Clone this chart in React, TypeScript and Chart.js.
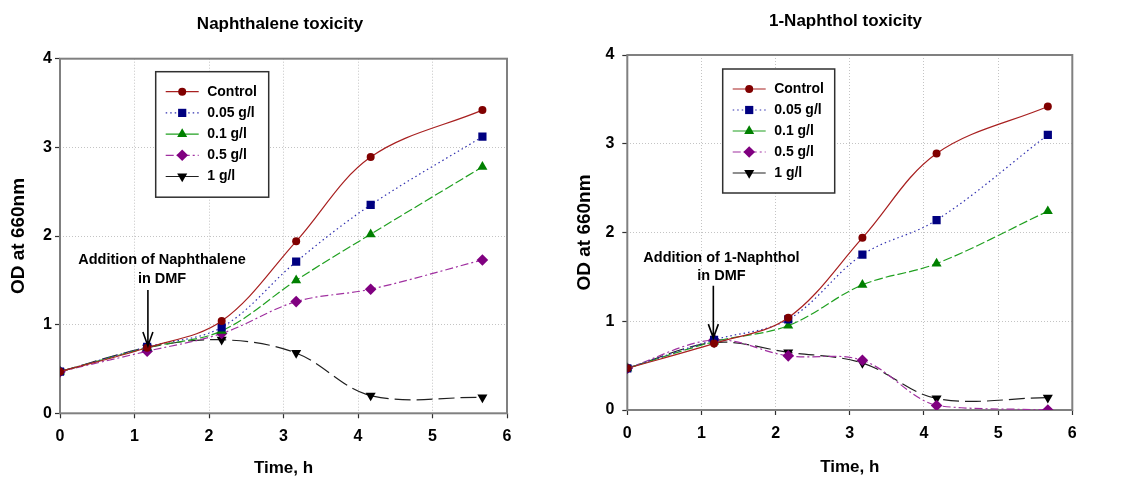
import React, { useEffect, useRef } from 'react';
import { Chart, registerables } from 'chart.js';

Chart.register(...registerables);

const FONT = '"Liberation Sans", Arial, Helvetica, sans-serif';

// ---------------- data ----------------
const TIMES_H = [0, 1.17, 2.17, 3.17, 4.17, 5.67];
const SERIES_NAMES = ['Control', '0.05 g/l', '0.1 g/l', '0.5 g/l', '1 g/l'];
const X_TICKS = [0, 1, 2, 3, 4, 5, 6];
const Y_TICKS = [0, 1, 2, 3, 4];

const NAPHTHALENE_CONTROL = [0.47, 0.74, 1.04, 1.94, 2.89, 3.42];
const NAPHTHALENE_005 = [0.47, 0.75, 0.97, 1.71, 2.35, 3.12];
const NAPHTHALENE_01 = [0.47, 0.74, 0.93, 1.5, 2.02, 2.78];
const NAPHTHALENE_05 = [0.47, 0.7, 0.9, 1.26, 1.4, 1.73];
const NAPHTHALENE_1 = [0.47, 0.74, 0.83, 0.68, 0.2, 0.18];

const NAPHTHOL_CONTROL = [0.47, 0.75, 1.04, 1.94, 2.89, 3.42];
const NAPHTHOL_005 = [0.47, 0.79, 1.02, 1.75, 2.14, 3.1];
const NAPHTHOL_01 = [0.47, 0.77, 0.95, 1.41, 1.65, 2.24];
const NAPHTHOL_05 = [0.47, 0.79, 0.61, 0.56, 0.05, 0.0];
const NAPHTHOL_1 = [0.47, 0.76, 0.65, 0.53, 0.13, 0.14];

const TITLE_LEFT = 'Naphthalene toxicity';
const TITLE_RIGHT = '1-Naphthol toxicity';
const X_TITLE = 'Time, h';
const Y_TITLE = 'OD at 660nm';
const NOTE_LEFT = ['Addition of Naphthalene', 'in DMF'];
const NOTE_RIGHT = ['Addition of 1-Naphthol', 'in DMF'];
const ADDITION_TIME = 1.18;

// ---------------- styles ----------------
const STYLES = [
  { line: '#a82020', fill: '#800000', dash: [] as number[], legendDash: [] as number[], point: 'circle', radius: 4, rotation: 0 },
  { line: '#3030b0', fill: '#000080', dash: [1.5, 3], legendDash: [1.5, 3], point: 'rect', radius: 5.8, rotation: 0 },
  { line: '#20a020', fill: '#008000', dash: [9, 3], legendDash: [] as number[], point: 'triangle', radius: 5.8, rotation: 0 },
  { line: '#a030a0', fill: '#800080', dash: [8, 3, 2, 3], legendDash: [8, 3, 2, 3], point: 'rectRot', radius: 5.8, rotation: 0 },
  { line: '#202020', fill: '#000000', dash: [16, 6], legendDash: [] as number[], point: 'triangle', radius: 5.8, rotation: 180 },
];

function drawMarker(ctx: CanvasRenderingContext2D, style: string, x: number, y: number, r: number, rot: number, color: string) {
  ctx.save();
  ctx.translate(x, y);
  ctx.rotate((rot * Math.PI) / 180);
  ctx.fillStyle = color;
  ctx.beginPath();
  if (style === 'circle') {
    ctx.arc(0, 0, r, 0, Math.PI * 2);
  } else if (style === 'rect') {
    const s = r * Math.SQRT1_2;
    ctx.rect(-s, -s, 2 * s, 2 * s);
  } else if (style === 'rectRot') {
    ctx.moveTo(0, -r);
    ctx.lineTo(r, 0);
    ctx.lineTo(0, r);
    ctx.lineTo(-r, 0);
    ctx.closePath();
  } else {
    let a = 0;
    ctx.moveTo(Math.sin(a) * r, -Math.cos(a) * r);
    a += (2 * Math.PI) / 3;
    ctx.lineTo(Math.sin(a) * r, -Math.cos(a) * r);
    a += (2 * Math.PI) / 3;
    ctx.lineTo(Math.sin(a) * r, -Math.cos(a) * r);
    ctx.closePath();
  }
  ctx.fill();
  ctx.restore();
}

const framePlugin = {
  id: 'frame',
  beforeDatasetsDraw(chart: any) {
    const { ctx, chartArea: a } = chart;
    ctx.save();
    ctx.strokeStyle = '#808080';
    ctx.lineWidth = 2;
    ctx.setLineDash([]);
    ctx.strokeRect(a.left, a.top, a.right - a.left, a.bottom - a.top);
    ctx.restore();
  },
};

const boxLegendPlugin = {
  id: 'boxLegend',
  afterDatasetsDraw(chart: any, _args: any, opts: any) {
    const { ctx, chartArea } = chart;
    const x0 = chartArea.left + opts.dx;
    const y0 = chartArea.top + opts.dy;
    ctx.save();
    ctx.fillStyle = '#ffffff';
    ctx.fillRect(x0, y0, opts.width, opts.height);
    ctx.strokeStyle = '#303030';
    ctx.lineWidth = 1.5;
    ctx.strokeRect(x0, y0, opts.width, opts.height);
    chart.data.datasets.forEach((ds: any, i: number) => {
      const st = STYLES[i];
      const cy = y0 + opts.firstRow + i * opts.rowGap;
      ctx.save();
      ctx.strokeStyle = ds.borderColor;
      ctx.lineWidth = ds.borderWidth;
      ctx.setLineDash(st.legendDash);
      ctx.beginPath();
      ctx.moveTo(x0 + 10, cy);
      ctx.lineTo(x0 + 43, cy);
      ctx.stroke();
      ctx.restore();
      drawMarker(ctx, st.point, x0 + 26.5, cy, st.radius, st.rotation, st.fill);
      ctx.fillStyle = '#000';
      ctx.font = `bold 14px ${FONT}`;
      ctx.textAlign = 'left';
      ctx.textBaseline = 'middle';
      ctx.fillText(ds.label, x0 + 51.5, cy);
    });
    ctx.restore();
  },
};

const arrowNotePlugin = {
  id: 'arrowNote',
  afterDatasetsDraw(chart: any, _args: any, opts: any) {
    const { ctx } = chart;
    const xs = chart.scales.x;
    const ys = chart.scales.y;
    ctx.save();
    ctx.fillStyle = '#000';
    ctx.font = `bold 14.5px ${FONT}`;
    ctx.textAlign = 'center';
    ctx.textBaseline = 'middle';
    opts.lines.forEach((t: string, i: number) => {
      ctx.fillText(t, xs.getPixelForValue(opts.textX), ys.getPixelForValue(opts.textY[i]));
    });
    const ax = xs.getPixelForValue(opts.arrowX);
    const ay1 = ys.getPixelForValue(opts.arrowFrom);
    const ay2 = ys.getPixelForValue(opts.arrowTo);
    ctx.strokeStyle = '#000';
    ctx.lineWidth = 1.6;
    ctx.beginPath();
    ctx.moveTo(ax, ay1);
    ctx.lineTo(ax, ay2);
    ctx.moveTo(ax - 5, ay2 - 14);
    ctx.lineTo(ax, ay2);
    ctx.lineTo(ax + 5, ay2 - 14);
    ctx.stroke();
    ctx.restore();
  },
};

type Layout = {
  width: number;
  padLeft: number;
  yWidth: number;
  rightWidth: number;
  xHeight: number;
  titlePadTop: number;
  titlePadBottom: number;
  yTitlePad: number;
  yTickPad: number;
  xTickPad: number;
  xTitlePad: number;
  legend: { dx: number; dy: number; width: number; height: number; firstRow: number; rowGap: number };
  note: { lines: string[]; textX: number; textY: number[]; arrowX: number; arrowFrom: number; arrowTo: number };
};

function buildConfig(title: string, series: number[][], L: Layout): any {
  const datasets = series.map((vals, i) => {
    const st = STYLES[i];
    return {
      label: SERIES_NAMES[i],
      data: TIMES_H.map((t, j) => ({ x: t, y: vals[j] })),
      borderColor: st.line,
      backgroundColor: st.fill,
      borderWidth: 1.2,
      borderDash: st.dash,
      pointStyle: st.point,
      pointRadius: st.radius,
      pointRotation: st.rotation,
      pointBackgroundColor: st.fill,
      pointBorderColor: st.fill,
      pointBorderWidth: 0,
      tension: 0.35,
      fill: false,
    };
  });
  const tickFont = { family: FONT, size: 16, weight: 'bold' as const };
  return {
    type: 'line',
    data: { datasets },
    plugins: [framePlugin, boxLegendPlugin, arrowNotePlugin],
    options: {
      animation: false,
      responsive: false,
      devicePixelRatio: 1,
      layout: { padding: { left: L.padLeft, right: 0, top: 0, bottom: 0 } },
      plugins: {
        legend: { display: false },
        tooltip: { enabled: false },
        title: {
          display: true,
          text: title,
          color: '#000',
          font: { family: FONT, size: 17, weight: 'bold' },
          padding: { top: L.titlePadTop, bottom: L.titlePadBottom },
        },
        boxLegend: L.legend,
        arrowNote: L.note,
      },
      scales: {
        x: {
          type: 'linear',
          min: 0,
          max: 6,
          afterBuildTicks: (s: any) => {
            s.ticks = X_TICKS.map((v) => ({ value: v }));
          },
          afterFit: (s: any) => {
            s.height = L.xHeight;
          },
          ticks: { font: tickFont, color: '#000', padding: L.xTickPad, maxRotation: 0 },
          grid: { color: '#c4c4c4', lineWidth: 1, tickLength: 5, tickColor: '#303030', tickWidth: 1.2, tickBorderDash: [] },
          border: { display: false, dash: [1, 2] },
          title: { display: true, text: X_TITLE, color: '#000', font: { family: FONT, size: 17, weight: 'bold' }, padding: { top: 0, bottom: L.xTitlePad } },
        },
        y: {
          type: 'linear',
          min: 0,
          max: 4,
          afterBuildTicks: (s: any) => {
            s.ticks = Y_TICKS.map((v) => ({ value: v }));
          },
          afterFit: (s: any) => {
            s.width = L.yWidth;
          },
          ticks: { font: tickFont, color: '#000', padding: L.yTickPad },
          grid: { color: '#c4c4c4', lineWidth: 1, tickLength: 5, tickColor: '#303030', tickWidth: 1.2, tickBorderDash: [] },
          border: { display: false, dash: [1, 2] },
          title: { display: true, text: Y_TITLE, color: '#000', font: { family: FONT, size: 19, weight: 'bold' }, padding: { top: L.yTitlePad, bottom: 0 } },
        },
        yRight: {
          type: 'linear',
          position: 'right',
          display: true,
          min: 0,
          max: 4,
          grid: { display: false },
          ticks: { display: false },
          border: { display: false },
          afterFit: (s: any) => {
            s.width = L.rightWidth;
          },
        },
      },
    },
  };
}

const LEFT_LAYOUT: Layout = {
  width: 560,
  padLeft: 0,
  yWidth: 60,
  rightWidth: 53,
  xHeight: 66.7,
  titlePadTop: 13.8,
  titlePadBottom: 24.5,
  yTitlePad: 7,
  yTickPad: 3,
  xTickPad: 8.8,
  xTitlePad: 1.8,
  legend: { dx: 95.7, dy: 13, width: 113, height: 125.5, firstRow: 20, rowGap: 21.2 },
  note: { lines: NOTE_LEFT, textX: 1.37, textY: [1.73, 1.51], arrowX: ADDITION_TIME, arrowFrom: 1.39, arrowTo: 0.76 },
};

const RIGHT_LAYOUT: Layout = {
  width: 562,
  padLeft: 9,
  yWidth: 58.3,
  rightWidth: 49.7,
  xHeight: 70,
  titlePadTop: 10.8,
  titlePadBottom: 23.8,
  yTitlePad: 4.5,
  yTickPad: 8,
  xTickPad: 9.4,
  xTitlePad: 2.3,
  legend: { dx: 95.4, dy: 14, width: 112, height: 124, firstRow: 20, rowGap: 21 },
  note: { lines: NOTE_RIGHT, textX: 1.27, textY: [1.71, 1.51], arrowX: 1.16, arrowFrom: 1.4, arrowTo: 0.81 },
};

function ToxicityChart(props: { title: string; series: number[][]; layout: Layout; left: number }) {
  const ref = useRef<HTMLCanvasElement>(null);
  useEffect(() => {
    if (!ref.current) return;
    const chart = new Chart(ref.current, buildConfig(props.title, props.series, props.layout));
    return () => chart.destroy();
  }, []);
  return (
    <canvas
      ref={ref}
      width={props.layout.width}
      height={480}
      style={{ position: 'absolute', left: props.left, top: 0, width: props.layout.width, height: 480 }}
    />
  );
}

export default function App() {
  return (
    <div style={{ position: 'fixed', left: 0, top: 0, width: 1122, height: 480, background: '#fff', overflow: 'hidden' }}>
      <ToxicityChart
        title={TITLE_LEFT}
        series={[NAPHTHALENE_CONTROL, NAPHTHALENE_005, NAPHTHALENE_01, NAPHTHALENE_05, NAPHTHALENE_1]}
        layout={LEFT_LAYOUT}
        left={0}
      />
      <ToxicityChart
        title={TITLE_RIGHT}
        series={[NAPHTHOL_CONTROL, NAPHTHOL_005, NAPHTHOL_01, NAPHTHOL_05, NAPHTHOL_1]}
        layout={RIGHT_LAYOUT}
        left={560}
      />
    </div>
  );
}
